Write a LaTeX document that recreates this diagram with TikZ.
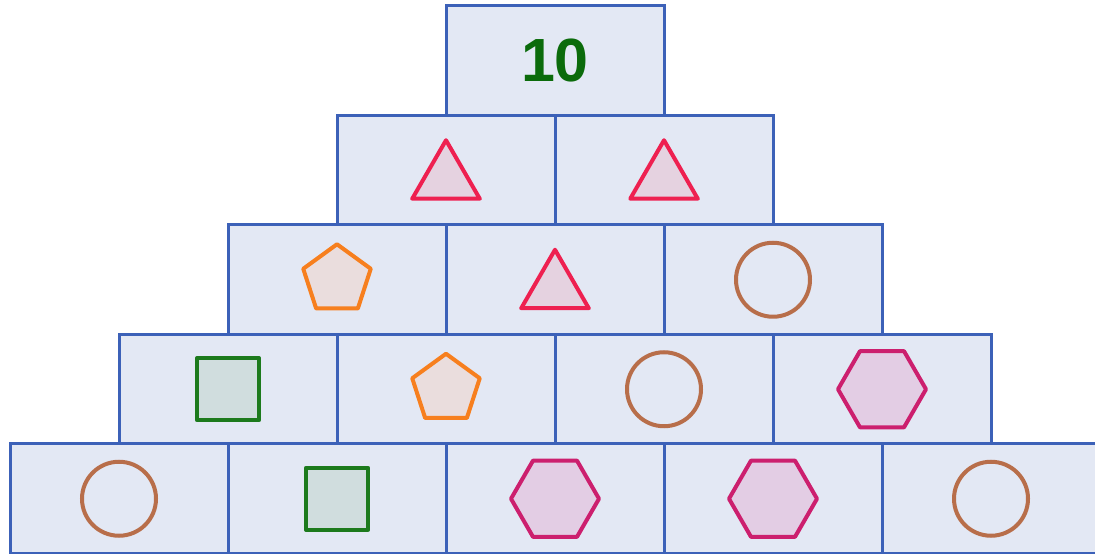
\documentclass[tikz,border=0pt]{standalone}
\usepackage{fontspec}
\setmainfont{Liberation Sans}
\usetikzlibrary{shapes.geometric}
\definecolor{boxfill}{HTML}{E3E8F4}
\definecolor{boxline}{HTML}{3C61B8}
\definecolor{tristroke}{HTML}{EE2050}
\definecolor{trifill}{HTML}{E5D2E0}
\definecolor{penstroke}{HTML}{F77F1E}
\definecolor{penfill}{HTML}{EADDDD}
\definecolor{circstroke}{HTML}{B86E4A}
\definecolor{sqstroke}{HTML}{1C7A1C}
\definecolor{sqfill}{HTML}{D0DDDE}
\definecolor{hexstroke}{HTML}{CC1F6E}
\definecolor{hexfill}{HTML}{E3CDE4}
\definecolor{numgreen}{HTML}{0B6B0B}
\tikzset{
  brick/.style={draw=boxline, fill=boxfill, line width=3pt, rectangle, minimum width=218pt, minimum height=109.5pt, inner sep=0pt},
  tri/.style={draw=tristroke, fill=trifill, line width=4pt, line join=round, regular polygon, regular polygon sides=3, minimum size=78pt, inner sep=0pt, yshift=-9pt},
  pent/.style={draw=penstroke, fill=penfill, line width=4pt, line join=round, regular polygon, regular polygon sides=5, minimum size=71pt, inner sep=0pt},
  circ/.style={draw=circstroke, line width=4pt, circle, minimum size=74pt, inner sep=0pt},
  sq/.style={draw=sqstroke, fill=sqfill, line width=4pt, line join=round, rectangle, minimum size=62pt, inner sep=0pt},
  hexa/.style={draw=hexstroke, fill=hexfill, line width=4pt, line join=round, regular polygon, regular polygon sides=6, minimum size=88pt, inner sep=0pt},
  numtext/.style={text=numgreen, font=\fontsize{61}{61}\selectfont\bfseries}
}
\begin{document}
\begin{tikzpicture}[x=1pt,y=1pt]
\useasboundingbox (0,0) rectangle (1095,554);
% row 5 (bottom)
\node[brick] (r5a) at (119,55.25) {};
\node[brick] (r5b) at (337,55.25) {};
\node[brick] (r5c) at (555,55.25) {};
\node[brick] (r5d) at (773,55.25) {};
\node[brick] (r5e) at (991,55.25) {};
% row 4
\node[brick] (r4a) at (228,164.75) {};
\node[brick] (r4b) at (446,164.75) {};
\node[brick] (r4c) at (664,164.75) {};
\node[brick] (r4d) at (882,164.75) {};
% row 3
\node[brick] (r3a) at (337,274.25) {};
\node[brick] (r3b) at (555,274.25) {};
\node[brick] (r3c) at (773,274.25) {};
% row 2
\node[brick] (r2a) at (446,383.75) {};
\node[brick] (r2b) at (664,383.75) {};
% row 1
\node[brick] (r1a) at (555,493.25) {};
% contents
\node[numtext] (n10) at (r1a) {10};
\node[tri] (t2a) at (r2a) {};
\node[tri] (t2b) at (r2b) {};
\node[pent] (p3a) at (r3a) {};
\node[tri] (t3b) at (r3b) {};
\node[circ] (c3c) at (r3c) {};
\node[sq] (s4a) at (r4a) {};
\node[pent] (p4b) at (r4b) {};
\node[circ] (c4c) at (r4c) {};
\node[hexa] (h4d) at (r4d) {};
\node[circ] (c5a) at (r5a) {};
\node[sq] (s5b) at (r5b) {};
\node[hexa] (h5c) at (r5c) {};
\node[hexa] (h5d) at (r5d) {};
\node[circ] (c5e) at (r5e) {};
\end{tikzpicture}
\end{document}
